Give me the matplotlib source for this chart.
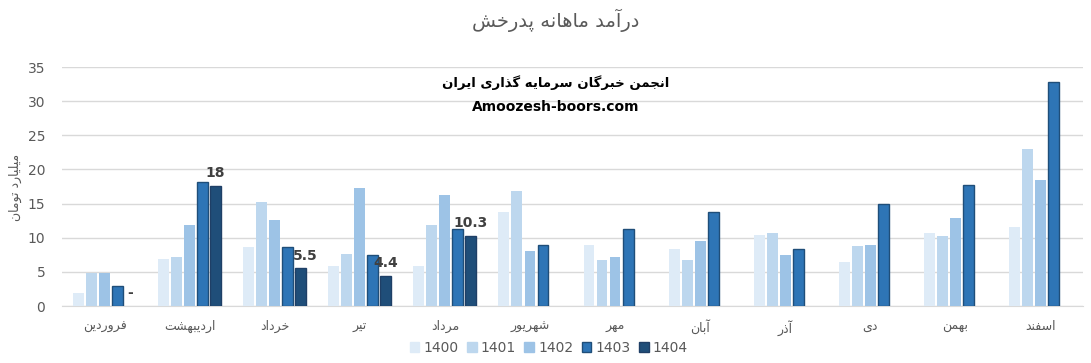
import numpy as np
import matplotlib
matplotlib.use("Agg")
import matplotlib.pyplot as plt
from matplotlib.patches import Patch

# ---------------- data ----------------
months = ["فروردین", "اردیبهشت", "خرداد", "تیر", "مرداد", "شهریور",
          "مهر", "آبان", "آذر", "دی", "بهمن", "اسفند"]
years = ["1400", "1401", "1402", "1403", "1404"]
v1400 = [1.9, 6.9, 8.6, 5.8, 5.9, 13.8, 8.9, 8.3, 10.4, 6.4, 10.7, 11.6]
v1401 = [4.9, 7.2, 15.3, 7.6, 11.9, 16.9, 6.7, 6.7, 10.7, 8.8, 10.2, 23.0]
v1402 = [4.9, 11.9, 12.6, 17.3, 16.3, 8.0, 7.2, 9.5, 7.5, 8.9, 12.9, 18.5]
v1403 = [2.9, 18.1, 8.6, 7.5, 11.3, 9.0, 11.3, 13.8, 8.3, 14.9, 17.7, 32.8]
v1404 = [0.0, 17.6, 5.5, 4.4, 10.3, None, None, None, None, None, None, None]
labels1404 = ["-", "18", "5.5", "4.4", "10.3", None, None, None, None, None, None, None]

title = "درآمد ماهانه پدرخش"
ylabel = "میلیارد تومان"
wm1 = "انجمن خبرگان سرمایه گذاری ایران"
wm2 = "Amoozesh-boors.com"

# ---------------- minimal Persian shaping ----------------
FORMS = {
    'ا': ('\uFE8D', '\uFE8E', None, None),
    'آ': ('\uFE81', '\uFE82', None, None),
    'ب': ('\uFE8F', '\uFE90', '\uFE91', '\uFE92'),
    'پ': ('\uFB56', '\uFB57', '\uFB58', '\uFB59'),
    'ت': ('\uFE95', '\uFE96', '\uFE97', '\uFE98'),
    'ج': ('\uFE9D', '\uFE9E', '\uFE9F', '\uFEA0'),
    'خ': ('\uFEA5', '\uFEA6', '\uFEA7', '\uFEA8'),
    'د': ('\uFEA9', '\uFEAA', None, None),
    'ذ': ('\uFEAB', '\uFEAC', None, None),
    'ر': ('\uFEAD', '\uFEAE', None, None),
    'ز': ('\uFEAF', '\uFEB0', None, None),
    'س': ('\uFEB1', '\uFEB2', '\uFEB3', '\uFEB4'),
    'ش': ('\uFEB5', '\uFEB6', '\uFEB7', '\uFEB8'),
    'ف': ('\uFED1', '\uFED2', '\uFED3', '\uFED4'),
    'گ': ('\uFB92', '\uFB93', '\uFB94', '\uFB95'),
    'ل': ('\uFEDD', '\uFEDE', '\uFEDF', '\uFEE0'),
    'م': ('\uFEE1', '\uFEE2', '\uFEE3', '\uFEE4'),
    'ن': ('\uFEE5', '\uFEE6', '\uFEE7', '\uFEE8'),
    'ه': ('\uFEE9', '\uFEEA', '\uFEEB', '\uFEEC'),
    'و': ('\uFEED', '\uFEEE', None, None),
    '\u06CC': ('\uFBFC', '\uFBFD', '\uFBFE', '\uFBFF'),
}


def fa(text):
    text = text.replace('\u064A', '\u06CC')
    out = []
    n = len(text)
    for i, ch in enumerate(text):
        if ch not in FORMS:
            out.append(ch)
            continue
        f = FORMS[ch]
        prev = text[i - 1] if i > 0 else None
        nxt = text[i + 1] if i < n - 1 else None
        jp = prev in FORMS and FORMS[prev][2] is not None
        jn = nxt in FORMS and f[2] is not None
        if jp and jn:
            out.append(f[3])
        elif jp:
            out.append(f[1])
        elif jn:
            out.append(f[2])
        else:
            out.append(f[0])
    return ''.join(out)[::-1]


# ---------------- plot ----------------
plt.rcParams['font.family'] = ['DejaVu Sans']
fig = plt.figure(figsize=(10.91, 3.63), dpi=100)
ax = fig.add_axes([0.0568, 0.157, 0.9359, 0.6584])

colors = ['#DEEBF7', '#BDD7EE', '#9DC3E6', '#2E75B6', '#1F4E79']
edges = [None, None, None, '#1F4E79', '#1F3F66']
series = [v1400, v1401, v1402, v1403, v1404]
x = np.arange(len(months))
pitch = 0.153
width = 0.128

for i, (vals, c, e) in enumerate(zip(series, colors, edges)):
    xs = [xi + (i - 2) * pitch for xi, v in zip(x, vals) if v]
    ys = [v for v in vals if v]
    if e:
        ax.bar(xs, ys, width=width, color=c, edgecolor=e, linewidth=1.0, zorder=3)
    else:
        ax.bar(xs, ys, width=width, color=c, linewidth=0, zorder=3)

for xi, v, lab in zip(x, v1404, labels1404):
    if lab is None:
        continue
    dx = 3 if lab == "5.5" else 0
    ax.annotate(lab, (xi + 2 * pitch, v), xytext=(dx, 4), textcoords='offset points',
                ha='center', va='bottom', fontsize=10, fontweight='bold', color='#404040')

ax.set_xlim(-0.5, len(months) - 0.5)
ax.set_ylim(0, 35)
ax.set_yticks(np.arange(0, 36, 5))
ax.grid(axis='y', color='#D9D9D9', linewidth=1, zorder=0)
for s in ['top', 'right', 'left']:
    ax.spines[s].set_visible(False)
ax.spines['bottom'].set_color('#D9D9D9')
ax.tick_params(axis='both', length=0, colors='#595959', labelsize=10)
ax.tick_params(axis='y', pad=12)
ax.tick_params(axis='x', pad=10)
ax.set_xticks(x)
ax.set_xticklabels([fa(m) for m in months], fontsize=9, color='#595959')

fig.text(0.014, 0.485, fa(ylabel), rotation=90, ha='center', va='center',
         fontsize=9, color='#595959')
fig.text(0.509, 0.945, fa(title), ha='center', va='center', fontsize=14, color='#595959')

fig.text(0.509, 0.773, fa(wm1), ha='center', va='center', fontsize=9.5,
         fontweight='bold', color='black')
fig.text(0.509, 0.706, wm2, ha='center', va='center', fontsize=10,
         fontweight='bold', color='black')

handles = [Patch(facecolor=c, edgecolor=(e if e else c)) for c, e in zip(colors, edges)]
fig.legend(handles, years, loc='center', bbox_to_anchor=(0.503, 0.042), ncol=5,
           frameon=False, fontsize=10, handlelength=0.7, handleheight=0.7,
           handletextpad=0.3, columnspacing=0.6, labelcolor='#595959')

fig.savefig('out.png', dpi=100)
